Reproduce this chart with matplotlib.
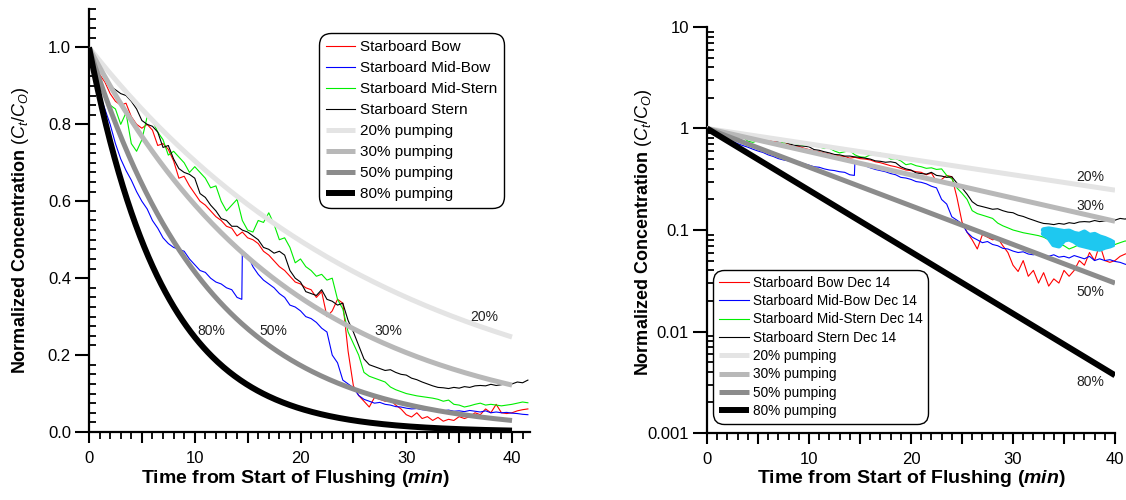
import numpy as np
import matplotlib
matplotlib.use("Agg")
import matplotlib.pyplot as plt
from matplotlib.ticker import MultipleLocator, FuncFormatter, LogLocator, NullFormatter

plt.rcParams['font.family'] = ['Liberation Sans', 'DejaVu Sans']
plt.rcParams['mathtext.fontset'] = 'custom'
plt.rcParams['mathtext.rm'] = 'Liberation Sans'
plt.rcParams['mathtext.it'] = 'Liberation Sans:italic'
plt.rcParams['mathtext.bf'] = 'Liberation Sans:bold'
plt.rcParams['mathtext.bfit'] = 'Liberation Sans:italic:bold'

# ---------------- data ----------------
t_grid = np.arange(0, 41.51, 0.5)

bow = [1.0, 0.96, 0.93, 0.91, 0.88, 0.86, 0.85, 0.855, 0.82, 0.80,
       0.79, 0.80, 0.785, 0.745, 0.75, 0.735, 0.705, 0.66, 0.665, 0.64,
       0.62, 0.60, 0.59, 0.575, 0.56, 0.55, 0.535, 0.53, 0.51, 0.52,
       0.505, 0.50, 0.49, 0.47, 0.46, 0.445, 0.43, 0.42, 0.405, 0.39,
       0.385, 0.375, 0.37, 0.35, 0.365, 0.30, 0.315, 0.345, 0.335, 0.21,
       0.12, 0.095, 0.08, 0.065, 0.09, 0.085, 0.08, 0.083, 0.07, 0.06,
       0.045, 0.039, 0.05, 0.035, 0.04, 0.03, 0.038, 0.028, 0.033, 0.03,
       0.04, 0.035, 0.04, 0.05, 0.045, 0.06, 0.05, 0.072, 0.05, 0.048,
       0.05, 0.055, 0.058, 0.06]

mid_stern = [1.0, 0.95, 0.91, 0.87, 0.85, 0.84, 0.80, 0.83, 0.75, 0.73,
             0.76, 0.82, 0.81, 0.78, 0.76, 0.72, 0.73, 0.715, 0.70, 0.675,
             0.69, 0.675, 0.66, 0.635, 0.64, 0.60, 0.575, 0.59, 0.605, 0.55,
             0.525, 0.52, 0.55, 0.545, 0.57, 0.54, 0.50, 0.505, 0.48, 0.44,
             0.45, 0.43, 0.42, 0.405, 0.41, 0.395, 0.40, 0.345, 0.32, 0.26,
             0.23, 0.20, 0.155, 0.145, 0.14, 0.135, 0.13, 0.117, 0.11, 0.105,
             0.10, 0.097, 0.094, 0.092, 0.09, 0.088, 0.085, 0.08, 0.083, 0.072,
             0.07, 0.065, 0.068, 0.072, 0.075, 0.07, 0.072, 0.07, 0.068, 0.07,
             0.072, 0.075, 0.078, 0.076]

stern = [1.0, 0.97, 0.94, 0.92, 0.90, 0.89, 0.88, 0.875, 0.86, 0.84,
         0.81, 0.80, 0.795, 0.78, 0.74, 0.745, 0.71, 0.685, 0.675, 0.67,
         0.66, 0.62, 0.61, 0.59, 0.575, 0.555, 0.55, 0.535, 0.535, 0.525,
         0.52, 0.51, 0.50, 0.48, 0.475, 0.465, 0.47, 0.46, 0.42, 0.40,
         0.39, 0.365, 0.36, 0.355, 0.37, 0.345, 0.34, 0.33, 0.335, 0.29,
         0.26, 0.225, 0.19, 0.175, 0.17, 0.165, 0.16, 0.162, 0.155, 0.15,
         0.148, 0.14, 0.136, 0.13, 0.125, 0.12, 0.116, 0.115, 0.113, 0.116,
         0.114, 0.118, 0.116, 0.12, 0.121, 0.12, 0.124, 0.121, 0.123, 0.126,
         0.125, 0.13, 0.128, 0.135]

t_midbow = [0, 0.5, 1.0, 1.5, 2.0, 2.5, 3.0, 3.5, 4.0, 4.5, 5.0, 5.5, 6.0, 6.5,
            7.0, 7.5, 8.0, 8.5, 9.0, 9.5, 10.0, 10.5, 11.0, 11.5, 12.0, 12.5,
            13.0, 13.5, 14.0, 14.45, 14.5, 15.0, 15.5, 16.0, 16.5, 17.0, 17.5,
            18.0, 18.5, 19.0, 19.5, 20.0, 20.5, 21.0, 21.5, 22.0, 22.5, 23.0,
            23.5, 24.0, 24.5, 25.0, 25.5, 26.0, 26.5, 27.0, 27.5, 28.0, 28.5,
            29.0, 29.5, 30.0, 30.5, 31.0, 31.5, 32.0, 32.5, 33.0, 33.5, 34.0,
            34.5, 35.0, 35.5, 36.0, 36.5, 37.0, 37.5, 38.0, 38.5, 39.0, 39.5,
            40.0, 40.5, 41.0, 41.5]
mid_bow = [1.0, 0.93, 0.88, 0.84, 0.80, 0.75, 0.71, 0.68, 0.655, 0.625, 0.60,
           0.58, 0.55, 0.53, 0.505, 0.49, 0.48, 0.475, 0.47, 0.45, 0.435, 0.42,
           0.415, 0.40, 0.39, 0.385, 0.375, 0.37, 0.35, 0.345, 0.47, 0.46,
           0.43, 0.41, 0.395, 0.385, 0.375, 0.36, 0.35, 0.33, 0.325, 0.315,
           0.30, 0.295, 0.285, 0.27, 0.26, 0.20, 0.18, 0.135, 0.125, 0.115,
           0.095, 0.085, 0.08, 0.075, 0.077, 0.072, 0.07, 0.066, 0.065, 0.062,
           0.06, 0.061, 0.058, 0.057, 0.059, 0.056, 0.055, 0.057, 0.054, 0.055,
           0.053, 0.056, 0.054, 0.052, 0.055, 0.05, 0.052, 0.05, 0.051, 0.049,
           0.048, 0.046, 0.045]

# extra cyan observations on the log panel (upper / lower edge of the blob)
t_cyan = [33.0, 33.5, 34.0, 34.5, 35.0, 35.5, 36.0, 36.5, 37.0, 37.5, 38.0, 38.5, 39.0, 39.5, 39.8]
c_cyan_top = [0.100, 0.102, 0.100, 0.098, 0.096, 0.097, 0.092, 0.090, 0.095, 0.088, 0.090, 0.085, 0.082, 0.078, 0.075]
c_cyan_bot = [0.092, 0.085, 0.072, 0.070, 0.080, 0.082, 0.078, 0.072, 0.070, 0.068, 0.066, 0.065, 0.068, 0.070, 0.072]

# theoretical pumping curves: value reached at t = 40 min
pump_labels = ['20% pumping', '30% pumping', '50% pumping', '80% pumping']
pump_short = ['20%', '30%', '50%', '80%']
pump_end_value = [0.247, 0.122, 0.030, 0.0037]
pump_end_time = 40.0

sensor_labels_left = ['Starboard Bow', 'Starboard Mid-Bow', 'Starboard Mid-Stern', 'Starboard Stern']
sensor_labels_right = [s + ' Dec 14' for s in sensor_labels_left]

# label positions (data coordinates)
left_label_pos = [(37.4, 0.30), (28.3, 0.263), (17.4, 0.263), (11.6, 0.263)]
right_label_pos = [(37.6, 0.33), (37.6, 0.172), (37.6, 0.0245), (37.6, 0.0032)]

# ---------------- style ----------------
sensor_colors = ['#ff0000', '#0000ff', '#00ee00', '#000000']
pump_colors = ['#e4e4e4', '#b8b8b8', '#8c8c8c', '#000000']
pump_lw = [3.6, 3.6, 3.6, 4.3]

fig = plt.figure(figsize=(11.26, 5.0), dpi=100)
W, H = 1126, 500
axL = fig.add_axes([89 / W, 1 - 432 / H, (530 - 89) / W, (432 - 9) / H])
axR = fig.add_axes([707 / W, 1 - 433 / H, (1115 - 707) / W, (433 - 27) / H])

sensor_t = [t_grid, t_midbow, t_grid, t_grid]
sensor_c = [bow, mid_bow, mid_stern, stern]

t_model = np.linspace(0, pump_end_time, 300)

for ax, labels in [(axL, sensor_labels_left), (axR, sensor_labels_right)]:
    for tt, cc, col, lab in zip(sensor_t, sensor_c, sensor_colors, labels):
        ax.plot(tt, cc, color=col, lw=0.8, label=lab, clip_on=False, zorder=2)
    for v, col, lw, lab in zip(pump_end_value, pump_colors, pump_lw, pump_labels):
        ax.plot(t_model, np.power(v, t_model / pump_end_time), color=col, lw=lw,
                solid_capstyle='butt', label=lab, zorder=3)
    for s in ['top', 'right']:
        ax.spines[s].set_visible(False)
    for s in ['left', 'bottom']:
        ax.spines[s].set_linewidth(1.6)
    ax.xaxis.set_major_locator(MultipleLocator(5))
    ax.xaxis.set_minor_locator(MultipleLocator(1))
    ax.xaxis.set_major_formatter(FuncFormatter(lambda x, p: '%d' % x if abs(x % 10) < 1e-6 else ''))
    ax.tick_params(axis='x', which='major', direction='out', length=8, width=1.5, labelsize=12, pad=6)
    ax.tick_params(axis='x', which='minor', direction='out', length=5, width=1.3)
    ax.tick_params(axis='y', which='major', direction='out', length=10, width=1.5, labelsize=12, pad=3)
    ax.tick_params(axis='y', which='minor', direction='in', length=5, width=1.3)
    ax.set_xlabel(r'Time from Start of Flushing ($\mathbfit{min}$)', fontsize=14, fontweight='bold', labelpad=4)
    ax.set_ylabel(r'$\mathbf{Normalized\ Concentration}$ ($C_t/C_O$)', fontsize=13)

axL.yaxis.set_label_coords((31 - 89) / 441, (432 - 230) / 423)
axR.yaxis.set_label_coords((654 - 707) / 408, (433 - 232) / 406)
axL.xaxis.set_label_coords((295 - 89) / 441, -0.085)
axR.xaxis.set_label_coords(0.5, -0.085)

# left panel
axL.set_xlim(0, 41.7)
axL.set_ylim(0, 1.1)
axL.yaxis.set_major_locator(MultipleLocator(0.2))
axL.yaxis.set_minor_locator(MultipleLocator(0.025))
axL.yaxis.set_major_formatter(FuncFormatter(lambda y, p: '%.1f' % y))
for (x, y), s in zip(left_label_pos, pump_short):
    axL.text(x, y, s, fontsize=10, ha='center', va='center', color='#222222')
legL = axL.legend(loc='upper left', bbox_to_anchor=(319 / W, 1 - 33 / H), bbox_transform=fig.transFigure,
                  fontsize=11, frameon=True, fancybox=True, edgecolor='black', framealpha=1,
                  handlelength=1.9, handletextpad=0.35, labelspacing=0.46, borderpad=0.45,
                  borderaxespad=0)
legL.get_frame().set_linewidth(1.0)
legL.get_frame().set_boxstyle('round,pad=0,rounding_size=0.8')

# right panel
axR.set_yscale('log')
axR.set_xlim(0, 40)
axR.set_ylim(0.001, 10)
axR.yaxis.set_major_locator(LogLocator(base=10))
axR.yaxis.set_minor_locator(LogLocator(base=10, subs=np.arange(2, 10)))
axR.yaxis.set_minor_formatter(NullFormatter())
axR.yaxis.set_major_formatter(FuncFormatter(lambda y, p: ('%g' % y)))
axR.fill_between(t_cyan, c_cyan_bot, c_cyan_top, color='#1ec8f0', lw=0, zorder=4)
axR.plot(t_cyan, c_cyan_top, color='#1ec8f0', lw=4, solid_capstyle='round', zorder=4)
axR.plot(t_cyan, c_cyan_bot, color='#1ec8f0', lw=4, solid_capstyle='round', zorder=4)
for (x, y), s in zip(right_label_pos, pump_short):
    axR.text(x, y, s, fontsize=10, ha='center', va='center', color='#222222')
legR = axR.legend(loc='upper left', bbox_to_anchor=(713 / W, 1 - 270 / H), bbox_transform=fig.transFigure,
                  fontsize=9.8, frameon=True, fancybox=True, edgecolor='black', framealpha=1,
                  handlelength=2.2, handletextpad=0.3, labelspacing=0.32, borderpad=0.42,
                  borderaxespad=0)
legR.get_frame().set_linewidth(1.0)
legR.get_frame().set_boxstyle('round,pad=0,rounding_size=0.8')

fig.savefig('out.png', dpi=100)
